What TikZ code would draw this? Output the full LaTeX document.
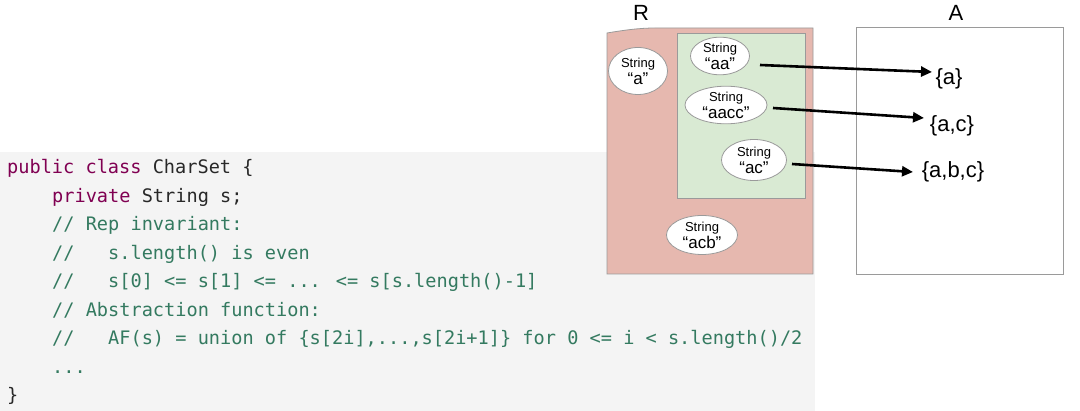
\documentclass[tikz,border=0pt]{standalone}
\usepackage{fontspec}
\setmainfont{Liberation Sans}
\newfontfamily\codefont{DejaVu Sans Mono}
\usetikzlibrary{arrows.meta,shapes.geometric}
\definecolor{codebg}{HTML}{F4F4F4}
\definecolor{kw}{RGB}{128,0,82}
\definecolor{cmt}{RGB}{52,122,96}
\definecolor{plain}{RGB}{40,40,40}
\definecolor{rfill}{HTML}{E6B8AF}
\definecolor{gfill}{HTML}{D9EAD3}
\definecolor{edge}{HTML}{9A9A9A}
\tikzset{
  codeline/.style={anchor=base west,inner sep=0pt,font=\codefont\fontsize{18.6}{20}\selectfont,text=cmt},
  strnode/.style={ellipse,draw=edge,fill=white,line width=0.8pt,inner sep=0pt,align=center,font=\fontsize{17}{17}\selectfont},
  setlabel/.style={inner sep=0pt,font=\fontsize{22}{24}\selectfont},
  title/.style={inner sep=0pt,font=\fontsize{22}{24}\selectfont},
  arr/.style={line width=2.6pt,-{Triangle[length=11pt,width=10pt]}},
}
\newcommand{\sm}{\fontsize{13}{13}\selectfont}
\newcommand{\ind}{\hspace*{45pt}}
\begin{document}
\begin{tikzpicture}[x=1pt,y=-1pt]
\useasboundingbox (0,0) rectangle (1080,411);
\fill[white] (0,0) rectangle (1080,411);
% code background
\fill[codebg] (0,152) rectangle (815,411);
% code
\node[codeline,text=plain] (l1) at (7,174) {\textcolor{kw}{public class} CharSet \{};
\node[codeline,text=plain] (l2) at (7,202.5) {\ind\textcolor{kw}{private} String s;};
\node[codeline] (l3) at (7,231) {\ind// Rep invariant:};
\node[codeline] (l4) at (7,259.5) {\ind//\ \ \ s.length() is even};
\node[codeline] (l5) at (7,288) {\ind//\ \ \ s[0] <= s[1] <= ... <= s[s.length()-1]};
\node[codeline] (l6) at (7,316.5) {\ind// Abstraction function:};
\node[codeline] (l7) at (7,345) {\ind//\ \ \ AF(s) = union of \{s[2i],...,s[2i+1]\} for 0 <= i < s.length()/2};
\node[codeline] (l8) at (7,373.5) {\ind...};
\node[codeline,text=plain] (l9) at (7,402) {\}};
% R region
\node[title] (Rt) at (641,13) {R};
\draw[edge,fill=rfill,line width=0.8pt] (607,33) .. controls (625,30) and (640,28) .. (655,28) -- (813,28) -- (813,274) -- (607,274) -- cycle;
\draw[edge,fill=gfill,line width=0.8pt] (677,33) rectangle (805,198);
\node[strnode,minimum width=59,minimum height=47] (sa) at (638,71) {{\sm String}\\“a”};
\node[strnode,minimum width=59,minimum height=33] (saa) at (720,56) {{\sm String}\\“aa”};
\node[strnode,minimum width=82,minimum height=37] (saacc) at (726,105) {{\sm String}\\“aacc”};
\node[strnode,minimum width=65,minimum height=41] (sac) at (754,160) {{\sm String}\\“ac”};
\node[strnode,minimum width=71,minimum height=39] (sacb) at (702,235) {{\sm String}\\“acb”};
% A region
\node[title] (At) at (956,13) {A};
\draw[edge,fill=white,line width=0.8pt] (856,27) rectangle (1063,274);
\node[setlabel] (a1) at (949,79) {\{a\}};
\node[setlabel] (a2) at (952,126) {\{a,c\}};
\node[setlabel] (a3) at (953,172) {\{a,b,c\}};
% arrows
\coordinate (s1) at (760,65);
\coordinate (e1) at (932,72);
\coordinate (s2) at (773,108);
\coordinate (e2) at (924,118);
\coordinate (s3) at (792,164);
\coordinate (e3) at (913,172);
\draw[arr] (s1) -- (e1);
\draw[arr] (s2) -- (e2);
\draw[arr] (s3) -- (e3);
\end{tikzpicture}
\end{document}
